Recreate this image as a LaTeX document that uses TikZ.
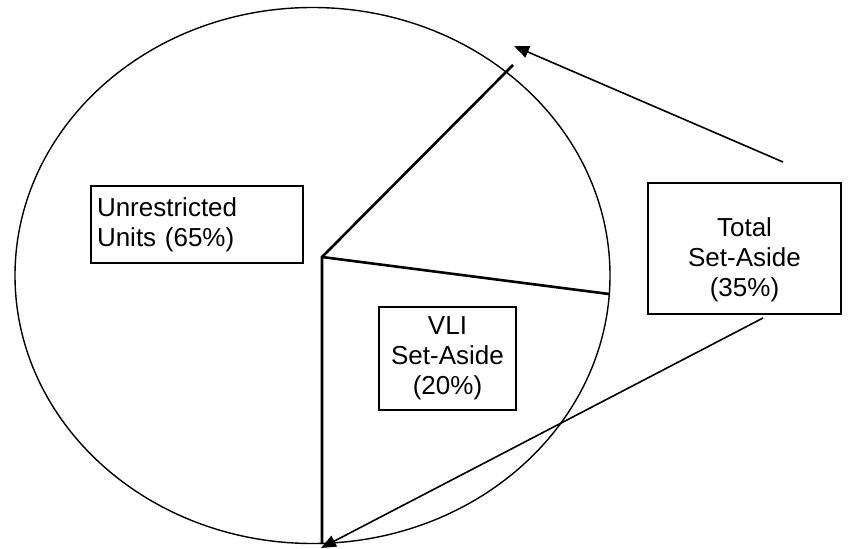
\documentclass[tikz,border=0pt]{standalone}
\usepackage{fontspec}
\setmainfont{Liberation Sans}
\usetikzlibrary{arrows.meta}
\begin{document}
\begin{tikzpicture}[x=1pt,y=-1pt,
  txt/.style={font=\fontsize{26}{30}\selectfont,inner sep=0pt},
  lbl/.style={txt,draw,line width=1.6pt},
  pie/.style={line width=2.6pt},
  arr/.style={line width=1.6pt,-{Triangle[length=15pt,width=12pt]}}]
\useasboundingbox (0,0) rectangle (850,548);
\fill[white] (0,0) rectangle (850,548);
% ellipse
\draw[line width=1.4pt] (312.5,275.5) ellipse [x radius=297.5, y radius=268];
% pie lines
\coordinate (c) at (322,257);
\coordinate (top) at (513,65);
\coordinate (right) at (609,294);
\coordinate (bot) at (322,544);
\draw[pie] (top) -- (c) -- (bot);
\draw[pie] (c) -- (right);
% boxes
\node[lbl,minimum width=212pt,minimum height=77pt,text width=200pt,align=left] (unr) at (197,224.5) {Unrestricted\\Units (65\%)};
\node[lbl,minimum width=137pt,minimum height=103pt,align=center] (vli) at (447.5,358.5) {VLI\\Set-Aside\\(20\%)};
\node[lbl,minimum width=193pt,minimum height=131pt] (tot) at (744.5,248.5) {};
\node[txt,align=center] (tottext) at (744.5,259.5) {Total\\Set-Aside\\(35\%)};
% arrows
\coordinate (t1) at (783,162);
\coordinate (h1) at (514,46);
\coordinate (t2) at (763,318);
\coordinate (h2) at (321,548);
\draw[arr] (t1) -- (h1);
\draw[arr] (t2) -- (h2);
\end{tikzpicture}
\end{document}
